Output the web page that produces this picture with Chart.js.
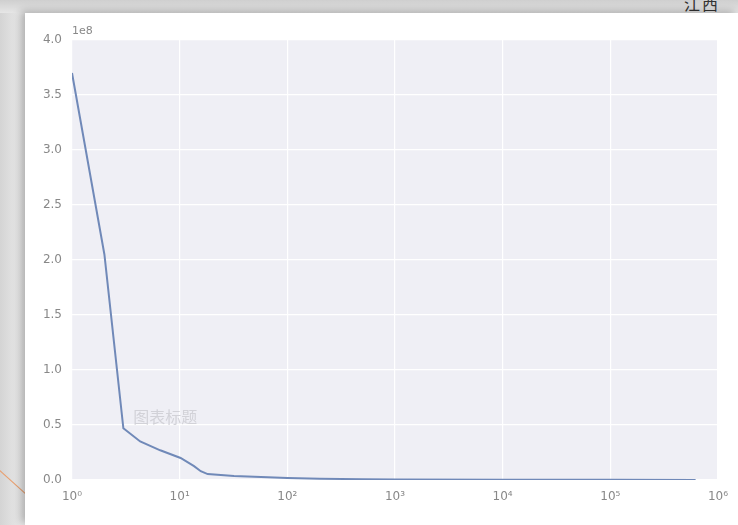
<!DOCTYPE html>
<html>
<head>
<meta charset="utf-8">
<script src="https://cdn.jsdelivr.net/npm/chart.js@4/dist/chart.umd.min.js"></script>
<style>
  body { margin: 0; width: 738px; height: 525px; overflow: hidden; position: relative;
         background: linear-gradient(90deg, #d4d4d4 0px, #e8e8e8 20px, #f2f2f2 60px); }
  #top { position: absolute; left: 0; top: 0; width: 738px; height: 13px;
         background: linear-gradient(180deg, #cfcfcf, #e6e6e6); }
  #corner { position: absolute; left: 684px; top: -9px; font: 16px "Noto Sans CJK SC"; color: #333; letter-spacing: 2px; }
  #card { position: absolute; left: 25px; top: 13px; width: 713px; height: 512px; background: #fff;
          box-shadow: -4px -2px 8px rgba(0,0,0,0.25); }
  #deco { position: absolute; left: -10px; top: 495px; width: 75px; height: 1px; background: #e9a070;
          transform: rotate(42deg); }
</style>
</head>
<body>
<div id="top"></div>
<div id="corner">江西</div>
<div id="deco"></div>
<div id="card"><canvas id="myChart" width="713" height="512"></canvas></div>
<script>
// values (y in raw units, axis shows 1e8)
var xValues = [1, 2, 3, 4.3, 6.6, 10.2, 13.6, 15.7, 18.2, 32, 66, 100, 200, 500, 1000, 10000, 100000, 620000];
var yValues = [3.7e8, 2.05e8, 0.47e8, 0.35e8, 0.27e8, 0.2e8, 0.126e8, 0.08e8, 0.054e8, 0.036e8, 0.025e8,
               0.018e8, 0.012e8, 0.007e8, 0.005e8, 0.003e8, 0.002e8, 0.001e8];
var xTicks = [1, 10, 100, 1000, 10000, 100000, 1000000];
var xTickLabels = ['10⁰', '10¹', '10²', '10³', '10⁴', '10⁵', '10⁶'];
var yTicks = [0, 0.5e8, 1e8, 1.5e8, 2e8, 2.5e8, 3e8, 3.5e8, 4e8];
var chartTitle = '图表标题';
var offsetText = '1e8';

var points = xValues.map(function (x, i) { return {x: x, y: yValues[i]}; });

var decor = {
  id: 'decor',
  beforeDraw: function (chart) {
    var a = chart.chartArea, c = chart.ctx;
    c.save();
    c.fillStyle = '#efeff5';
    c.fillRect(a.left, a.top, a.right - a.left, a.bottom - a.top);
    c.restore();
  },
  afterDraw: function (chart) {
    var a = chart.chartArea, c = chart.ctx;
    c.save();
    c.font = '11px "DejaVu Sans"';
    c.fillStyle = '#888';
    c.textBaseline = 'bottom';
    c.fillText(offsetText, a.left, a.top - 3);
    c.font = '16px "Noto Sans CJK SC"';
    c.fillStyle = '#d2d2d8';
    c.textBaseline = 'middle';
    c.fillText(chartTitle, chart.scales.x.getPixelForValue(3.7), chart.scales.y.getPixelForValue(0.57e8));
    c.restore();
  }
};

var ctx = document.getElementById('myChart').getContext('2d');
var myChart = new Chart(ctx, {
  type: 'line',
  data: {
    datasets: [{
      data: points,
      borderColor: '#7089b8',
      borderWidth: 2,
      pointRadius: 0,
      fill: false,
      tension: 0
    }]
  },
  options: {
    responsive: false,
    animation: false,
    layout: { padding: { top: 27, right: 20, left: 0, bottom: 0 } },
    plugins: { legend: { display: false }, tooltip: { enabled: false } },
    scales: {
      x: {
        type: 'logarithmic',
        min: 1,
        max: 1000000,
        border: { display: false },
        grid: { color: '#ffffff', lineWidth: 1.2, drawTicks: false },
        afterBuildTicks: function (s) { s.ticks = xTicks.map(function (v) { return {value: v}; }); },
        afterFit: function (s) { s.height = 45; },
        ticks: {
          padding: 10,
          color: '#888',
          font: { family: 'DejaVu Sans', size: 12 },
          maxRotation: 0,
          autoSkip: false,
          callback: function (v) { return xTickLabels[xTicks.indexOf(v)]; }
        }
      },
      y: {
        min: 0,
        max: 4e8,
        border: { display: false },
        grid: { color: '#ffffff', lineWidth: 1.2, drawTicks: false },
        afterBuildTicks: function (s) { s.ticks = yTicks.map(function (v) { return {value: v}; }); },
        afterFit: function (s) { s.width = 47; },
        ticks: {
          padding: 10,
          color: '#888',
          font: { family: 'DejaVu Sans', size: 12 },
          callback: function (v) { return (v / 1e8).toFixed(1); }
        }
      }
    }
  },
  plugins: [decor]
});
</script>
</body>
</html>
